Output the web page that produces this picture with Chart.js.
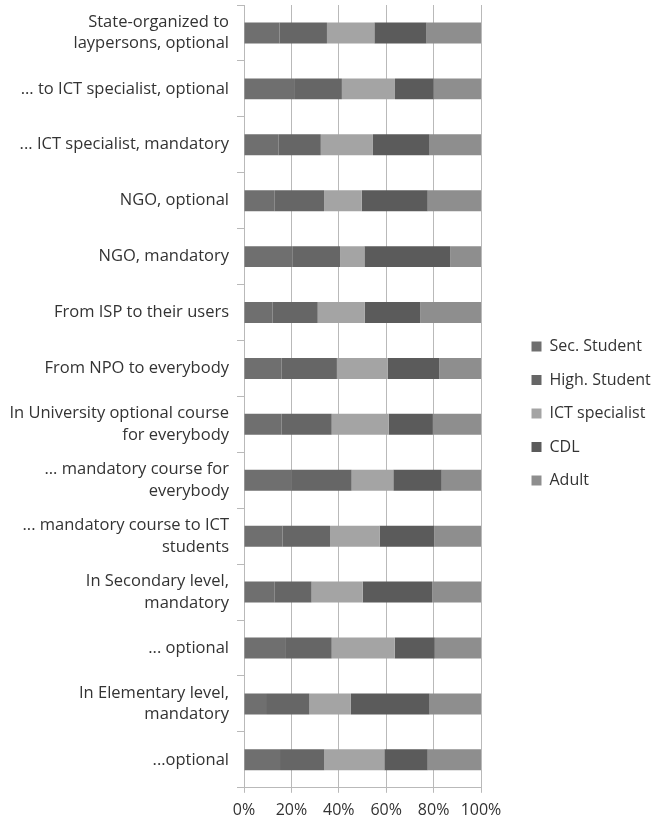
<!DOCTYPE html>
<html>
<head>
<meta charset="utf-8">
<script src="https://cdn.jsdelivr.net/npm/chart.js@4/dist/chart.umd.min.js"></script>
<style>
  html, body { margin: 0; padding: 0; background: #fff; }
  #wrap { width: 651px; height: 828px; position: relative; }
</style>
</head>
<body>
<div id="wrap"><canvas id="chart"></canvas></div>
<script>
const categories = [
  ['State-organized to', 'laypersons, optional'],
  '... to ICT specialist, optional',
  '... ICT specialist, mandatory',
  'NGO, optional',
  'NGO, mandatory',
  'From ISP to their users',
  'From NPO to everybody',
  ['In University optional course', 'for everybody'],
  ['... mandatory course for', 'everybody'],
  ['... mandatory course to ICT', 'students'],
  ['In Secondary level,', 'mandatory'],
  '... optional',
  ['In Elementary level,', 'mandatory'],
  '...optional'
];

const secStudent  = [15.0, 21.5, 14.5, 12.8, 20.6, 12.1, 15.9, 15.9, 19.9, 16.3, 12.8, 17.7,  9.3, 15.2];
const highStudent = [20.0, 19.8, 17.9, 21.0, 20.0, 19.0, 23.3, 21.1, 25.5, 20.0, 15.7, 19.3, 18.3, 18.7];
const ictSpecialist = [20.0, 22.4, 22.0, 15.9, 10.2, 19.9, 21.5, 24.1, 17.6, 20.9, 21.6, 26.6, 17.5, 25.3];
const cdl         = [22.0, 16.3, 23.9, 27.8, 36.2, 23.4, 21.7, 18.6, 20.4, 23.1, 29.3, 16.9, 33.2, 18.3];
const adult       = [23.0, 20.0, 21.7, 22.5, 13.0, 25.6, 17.6, 20.3, 16.6, 19.7, 20.6, 19.5, 21.7, 22.5];

const xTicks = [0, 20, 40, 60, 80, 100];

const fontFamily = '"Open Sans", Lato, sans-serif';
const textColor = '#333333';
const lineColor = '#b9b9b9';

// fixed legend column on the right, items set in from the plot edge
const legendGap = {
  id: 'legendGap',
  beforeInit(chart) {
    const fit = chart.legend.fit;
    chart.legend.fit = function () {
      fit.call(this);
      this.width = 170;
    };
  },
  afterLayout(chart) {
    chart.legend.left += 33;
    chart.legend.top -= 6;
  }
};

function dataset(label, data, color) {
  return {
    label: label,
    data: data,
    backgroundColor: color,
    borderWidth: 0,
    barPercentage: 0.375,
    categoryPercentage: 1
  };
}

new Chart(document.getElementById('chart'), {
  type: 'bar',
  data: {
    labels: categories,
    datasets: [
      dataset('Sec. Student', secStudent, '#6f6f6f'),
      dataset('High. Student', highStudent, '#666666'),
      dataset('ICT specialist', ictSpecialist, '#a4a4a4'),
      dataset('CDL', cdl, '#5b5b5b'),
      dataset('Adult', adult, '#8e8e8e')
    ]
  },
  options: {
    indexAxis: 'y',
    responsive: true,
    maintainAspectRatio: false,
    animation: false,
    layout: { padding: { top: 5, left: 0, right: 0, bottom: 0 } },
    plugins: {
      tooltip: { enabled: false },
      legend: {
        position: 'right',
        maxWidth: 170,
        labels: {
          color: textColor,
          font: { family: fontFamily, size: 16 },
          boxWidth: 10,
          boxHeight: 10,
          padding: 17.5
        }
      }
    },
    scales: {
      x: {
        stacked: true,
        min: 0,
        max: 100,
        afterBuildTicks(scale) {
          scale.ticks = xTicks.map(v => ({ value: v }));
        },
        ticks: {
          color: textColor,
          font: { family: fontFamily, size: 16 },
          padding: 8,
          maxRotation: 0,
          callback: v => v + '%'
        },
        grid: { color: lineColor, tickLength: 5, lineWidth: 1 },
        border: { color: lineColor }
      },
      y: {
        stacked: true,
        afterFit(scale) {
          scale.width = 244;
          scale.paddingTop = 0;
          scale.paddingBottom = 0;
        },
        ticks: {
          color: textColor,
          font: { family: fontFamily, size: 16.5, lineHeight: 1.3 },
          padding: 8
        },
        grid: {
          offset: true,
          drawOnChartArea: false,
          color: lineColor,
          tickLength: 7
        },
        border: { color: lineColor }
      }
    }
  },
  plugins: [legendGap]
});
</script>
</body>
</html>
